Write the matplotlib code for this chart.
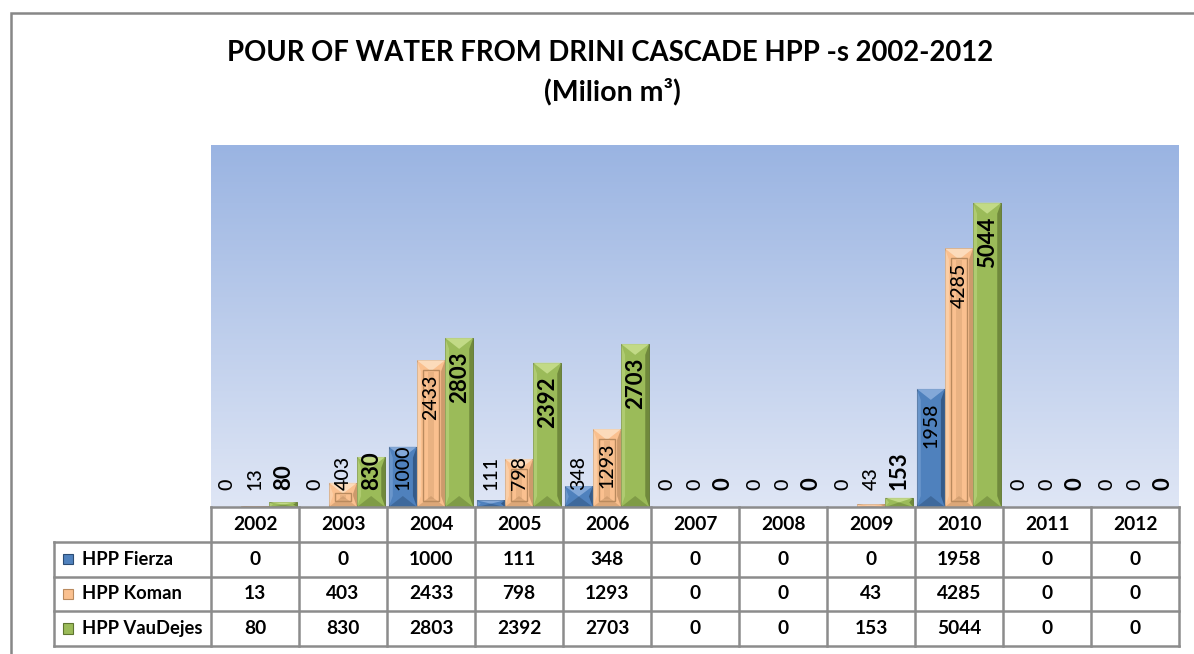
import matplotlib
matplotlib.use('Agg')
import matplotlib.pyplot as plt
import numpy as np
from matplotlib.patches import Rectangle, Polygon
from matplotlib.colors import LinearSegmentedColormap

# Data
years = ['2002', '2003', '2004', '2005', '2006', '2007', '2008', '2009', '2010', '2011', '2012']
series_names = ['HPP Fierza', 'HPP Koman', 'HPP VauDejes']
fierza = [0, 0, 1000, 111, 348, 0, 0, 0, 1958, 0, 0]
koman = [13, 403, 2433, 798, 1293, 0, 0, 43, 4285, 0, 0]
vaudejes = [80, 830, 2803, 2392, 2703, 0, 0, 153, 5044, 0, 0]
series = [fierza, koman, vaudejes]

# base / dark / light colours per series
colors = [('#4f81bd', '#2b4c74', '#8db0de'),
          ('#fac08f', '#b98a5e', '#fde0c4'),
          ('#9bbb59', '#5e7530', '#c9e08f')]

plt.rcParams['font.family'] = ['Lato', 'DejaVu Sans']

W, H = 1194, 654
fig = plt.figure(figsize=(W / 100, H / 100), dpi=100)


def px_box(x0, y0, x1, y1):
    return [x0 / W, 1 - y1 / H, (x1 - x0) / W, (y1 - y0) / H]


# outer chart border (only top/left visible)
fig.add_artist(Rectangle((11 / W, -0.05), 1.2, 1 - 13 / H + 0.05, transform=fig.transFigure,
                         fill=False, edgecolor='#878787', linewidth=1.8))

# title
fig.text(610 / W, 1 - 53 / H, 'POUR OF WATER FROM DRINI CASCADE HPP -s 2002-2012',
         ha='center', va='center', fontsize=19.8, fontweight='bold')
fig.text(612 / W, 1 - 92 / H, '(Milion m\u00b3)', ha='center', va='center',
         fontsize=20.5, fontweight='bold')

# plot area
ax = fig.add_axes(px_box(211, 145, 1179, 507))
ymax = 6000
n = len(years)
grad = np.linspace(0, 1, 256).reshape(-1, 1)
bg = LinearSegmentedColormap.from_list('bg', ['#dfe6f5', '#9ab4e2'])
ax.imshow(grad, extent=(-0.5, n - 0.5, 0, ymax), origin='lower', aspect='auto', cmap=bg, zorder=0)
ax.set_xlim(-0.5, n - 0.5)
ax.set_ylim(0, ymax)
ax.axis('off')

upx = ymax / 362.0   # data units per pixel (y)
xpx = 1 / 88.0       # data units per pixel (x)
bw = 0.32
x = np.arange(n)

labels = []
for i, vals in enumerate(series):
    base, dark, light = colors[i]
    pos = x + (i - 1) * bw
    ax.bar(pos, vals, width=bw, color=base, edgecolor=dark, linewidth=0.6, zorder=2)
    for xc, v in zip(pos, vals):
        if v > 0:
            x0, x1 = xc - bw / 2, xc + bw / 2
            s = 4 * xpx
            d = min(v / 2, 11 * upx)
            ax.add_patch(Polygon([(x0, 0), (x0 + s, d), (x0 + s, v - d), (x0, v)],
                                 color=light, alpha=0.45, lw=0, zorder=3))
            ax.add_patch(Polygon([(x1, 0), (x1 - s, d), (x1 - s, v - d), (x1, v)],
                                 color=dark, alpha=0.7, lw=0, zorder=3))
            ax.add_patch(Polygon([(x0, v), (x1, v), (xc, v - d)],
                                 color=light, alpha=0.85, lw=0, zorder=3))
            ax.add_patch(Polygon([(x0, 0), (x1, 0), (xc, d)],
                                 color=dark, alpha=0.45, lw=0, zorder=3))
            if i == 1 and v > 20 * upx:
                ax.add_patch(Rectangle((x0 + 6 * xpx, 6 * upx), bw - 12 * xpx, v - 16 * upx,
                                       fill=False, edgecolor=dark, lw=1.0, zorder=3))
                ax.add_patch(Rectangle((xc - 3 * xpx, 8 * upx), 6 * xpx, v - 20 * upx,
                                       color=dark, alpha=0.25, lw=0, zorder=3))
        bold = (i == 2)
        t = ax.text(xc, v, str(v), rotation=90, ha='center', va='bottom',
                    fontsize=16 if bold else 14, fontweight='bold' if bold else 'medium',
                    color='black', zorder=5)
        labels.append((t, v))

# place labels: inside end, but never lower than a fixed baseline offset
fig.canvas.draw()
r = fig.canvas.get_renderer()
for t, v in labels:
    h = t.get_window_extent(r).height * upx
    bottom = max(17 * upx, v - 14 * upx - h)
    t.set_y(bottom)

# data table
tab = fig.add_axes(px_box(54, 507, 1179, 646))
xl = -0.5 - (211 - 54) / 88.0
tab.set_xlim(xl, n - 0.5)
tab.set_ylim(0, 4)
tab.axis('off')
lc = '#8c8c8c'
lw = 1.8
tab.plot([-0.5, n - 0.5], [4, 4], color=lc, lw=lw, clip_on=False)
for yy in [3, 2, 1, 0]:
    tab.plot([xl, n - 0.5], [yy, yy], color=lc, lw=lw, clip_on=False)
for k in range(n + 1):
    tab.plot([k - 0.5, k - 0.5], [0, 4], color=lc, lw=lw, clip_on=False)
tab.plot([xl, xl], [0, 3], color=lc, lw=lw, clip_on=False)

fs = 13.8
for k, yr in enumerate(years):
    tab.text(k, 3.5, yr, ha='center', va='center', fontsize=fs, fontweight='bold')
for j, (name, vals) in enumerate(zip(series_names, series)):
    yc = 2.5 - j
    base, dark, light = colors[j]
    tab.add_patch(Rectangle((xl + 9 / 88, yc - 0.15), 10 / 88, 0.3, facecolor=base,
                            edgecolor=dark, lw=0.8))
    tab.text(xl + 28 / 88, yc, name, ha='left', va='center', fontsize=fs - 0.6, fontweight='bold')
    for k, v in enumerate(vals):
        tab.text(k, yc, str(v), ha='center', va='center', fontsize=fs, fontweight='bold')

fig.savefig('out.png', dpi=100)
